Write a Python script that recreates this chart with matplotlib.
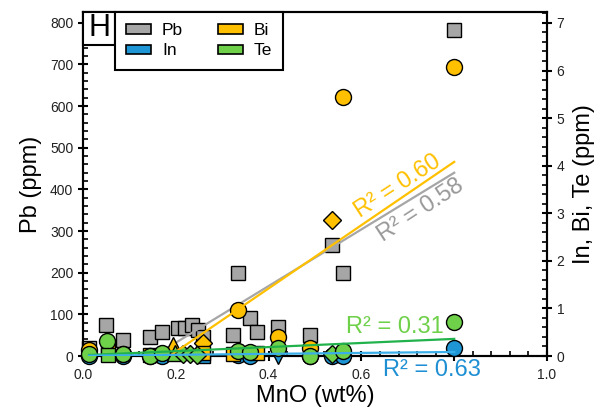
import matplotlib
matplotlib.use("Agg")
import matplotlib.pyplot as plt
from matplotlib.patches import Patch, Rectangle
from matplotlib.ticker import MultipleLocator, FixedLocator
import numpy as np

plt.rcParams['font.family'] = ['Liberation Sans', 'DejaVu Sans']

# Pb (left axis), all squares
pb_x = [0.013, 0.050, 0.086, 0.144, 0.170, 0.205, 0.220, 0.235, 0.248, 0.259,
        0.323, 0.334, 0.360, 0.375, 0.420, 0.489, 0.537, 0.560, 0.800]
pb_val = [19, 74, 38, 46, 58, 67, 67, 74, 62, 46, 50, 200, 91, 58, 70, 50, 267, 200, 783]

# In (right axis)
in_x = [0.013, 0.086, 0.144, 0.170, 0.259, 0.334, 0.360, 0.420, 0.489, 0.537, 0.560, 0.800]
in_val = [0.0, 0.0, 0.0, 0.0, 0.0, 0.02, 0.0, 0.0, 0.0, 0.0, 0.0, 0.17]
in_mk = ['o', 'o', 'o', 'o', 's', 'o', 'o', 'v', 'o', 'o', 'o', 'o']

# Bi (right axis)
bi_x = [0.013, 0.054, 0.086, 0.144, 0.195, 0.259, 0.259, 0.323, 0.334, 0.375,
        0.420, 0.489, 0.537, 0.560, 0.800]
bi_val = [0.13, 0.12, 0.05, 0.03, 0.23, 0.27, 0.06, 0.05, 0.97, 0.06,
          0.40, 0.17, 2.86, 5.44, 6.08]
bi_mk = ['o', 's', 'o', 's', '^', 'D', 's', 's', 'o', 's', 'o', 'o', 'D', 'o', 'o']

# Te (right axis)
te_x = [0.013, 0.052, 0.054, 0.086, 0.144, 0.170, 0.198, 0.215, 0.230, 0.246,
        0.334, 0.360, 0.420, 0.489, 0.537, 0.560, 0.800]
te_val = [0.04, 0.32, 0.02, 0.04, 0.0, 0.06, 0.06, 0.05, 0.04, 0.02,
          0.11, 0.09, 0.17, 0.0, 0.04, 0.11, 0.71]
te_mk = ['o', 'o', 's', 'o', 'o', 'o', '^', 'D', 'D', 'D',
         'o', 'o', 'o', 'o', 'D', 'o', 'o']

# linear trendlines (slope, intercept)
fit_pb = (680, -104)
fit_bi = (6.65, -1.24)
fit_te = (0.43, 0.016)
fit_in = (0.10, 0.005)
fit_range = [0.013, 0.80]

x_ticks = [0.0, 0.2, 0.4, 0.6, 0.8, 1.0]
x_ticklabels = ['0.0', '0.2', '0.4', '0.6', '', '1.0']

c_pb, c_in, c_bi, c_te = '#a6a6a6', '#1e96d6', '#ffc000', '#6fd04a'
sizes = {'o': 11.5, 's': 10.5, 'D': 8.8, '^': 11, 'v': 11}

fig = plt.figure(figsize=(6.08, 4.16), dpi=100)
ax = fig.add_axes([0.1365, 0.1442, 0.7632, 0.827])
ax2 = ax.twinx()

ax.set_xlim(0, 1)
ax.set_ylim(0, 826)
ax2.set_ylim(0, 7.23)


def draw_points(axis, xs, ys, marks, color, z):
    for x, y, m in zip(xs, ys, marks):
        axis.plot(x, y, marker=m, ms=sizes[m], mfc=color, mec='black', mew=1,
                  ls='none', clip_on=False, zorder=z)


draw_points(ax, pb_x, pb_val, ['s'] * len(pb_x), c_pb, 3)
draw_points(ax2, in_x, in_val, in_mk, c_in, 3)
draw_points(ax2, bi_x, bi_val, bi_mk, c_bi, 4)
draw_points(ax2, te_x, te_val, te_mk, c_te, 5)

xx = np.array(fit_range)
ax.plot(xx, fit_pb[0] * xx + fit_pb[1], color='#a6a6a6', lw=1.6, zorder=6)
ax2.plot(xx, fit_bi[0] * xx + fit_bi[1], color='#ffc000', lw=1.6, zorder=6)
ax2.plot(xx, fit_te[0] * xx + fit_te[1], color='#22b24c', lw=1.6, zorder=6)
ax2.plot(xx, fit_in[0] * xx + fit_in[1], color='#3aaee8', lw=1.6, zorder=6)

# R2 labels
ax2.text(0.679, 0.494, 'R² = 0.60', color='#ffc000', fontsize=17, rotation=33,
         rotation_mode='anchor', ha='center', va='center', transform=ax2.transAxes)
ax2.text(0.728, 0.422, 'R² = 0.58', color='#999999', fontsize=17, rotation=33,
         rotation_mode='anchor', ha='center', va='center', transform=ax2.transAxes)
ax2.text(0.672, 0.084, 'R² = 0.31', color='#6fd04a', fontsize=17,
         ha='center', va='center', transform=ax2.transAxes)
ax2.text(0.752, -0.041, 'R² = 0.63', color='#1e8fd3', fontsize=17,
         ha='center', va='center', transform=ax2.transAxes, clip_on=False,
         zorder=10)

# axes styling
for a in (ax, ax2):
    for s in a.spines.values():
        s.set_linewidth(1.5)
ax.xaxis.set_major_locator(FixedLocator(x_ticks))
ax.set_xticklabels(x_ticklabels)
ax.xaxis.set_minor_locator(MultipleLocator(0.04))
ax.yaxis.set_major_locator(MultipleLocator(100))
ax.yaxis.set_minor_locator(MultipleLocator(20))
ax2.yaxis.set_major_locator(MultipleLocator(1))
ax2.yaxis.set_minor_locator(MultipleLocator(0.2))
for a in (ax, ax2):
    a.tick_params(which='major', direction='inout', length=7, width=1.5,
                  labelsize=10, labelcolor='#222222')
    a.tick_params(which='minor', direction='in', length=3.5, width=1.2)
ax.tick_params(axis='y', which='both', right=False)
ax.tick_params(axis='x', which='both', top=False, pad=5)

ax.set_xlabel('MnO (wt%)', fontsize=17, labelpad=2)
ax.set_ylabel('Pb (ppm)', fontsize=17, labelpad=6)
ax2.set_ylabel('In, Bi, Te (ppm)', fontsize=17, labelpad=6)

# panel letter
ax2.add_patch(Rectangle((0, 0.903), 0.069, 0.097, transform=ax2.transAxes,
                        fc='white', ec='black', lw=1.5, zorder=11, clip_on=False))
ax2.text(0.0345, 0.952, 'H', fontsize=22, ha='center', va='center',
         transform=ax2.transAxes, zorder=12)

handles = [Patch(fc=c_pb, ec='black', lw=1.2, label='Pb'),
           Patch(fc=c_in, ec='black', lw=1.2, label='In'),
           Patch(fc=c_bi, ec='black', lw=1.2, label='Bi'),
           Patch(fc=c_te, ec='black', lw=1.2, label='Te')]
leg = ax2.legend(handles=handles, ncol=2, loc='upper left',
                 bbox_to_anchor=(0.069, 1.0), borderaxespad=0, fontsize=12.5,
                 handlelength=1.45, handleheight=0.47, handletextpad=0.6,
                 columnspacing=2.0, labelspacing=0.3, borderpad=0.65,
                 fancybox=False, framealpha=1, edgecolor='black')
leg.get_frame().set_linewidth(1.5)
leg.set_zorder(12)

fig.savefig('out.png', dpi=100)
